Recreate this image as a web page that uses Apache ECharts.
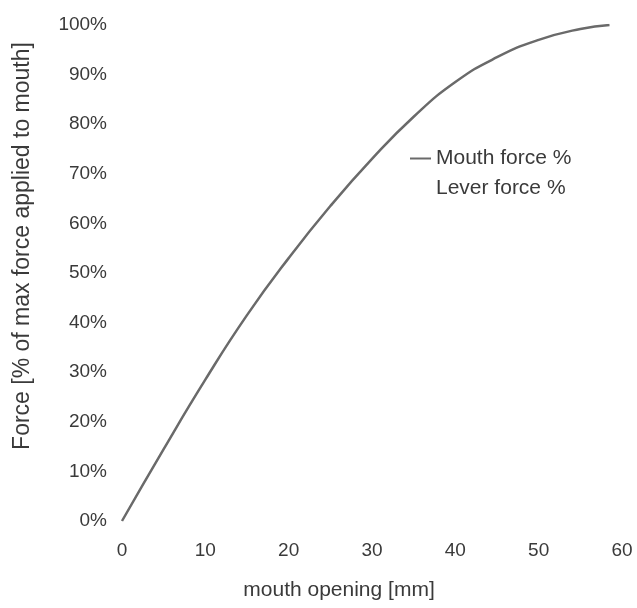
<!DOCTYPE html>
<html>
<head>
<meta charset="utf-8">
<script src="https://cdn.jsdelivr.net/npm/echarts@6/dist/echarts.min.js"></script>
<style>
  html, body { margin: 0; padding: 0; background: #fff; }
  #chart { width: 637px; height: 608px; }
</style>
</head>
<body>
<div id="chart"></div>
<script>
// mouth opening [mm] and force in % of max
var opening = [0, 5, 10, 15, 20, 25, 30, 35, 40, 45, 50, 55, 58.5];
var mouthForce = [0, 14.5, 28.5, 41.5, 53, 63.5, 73, 81.5, 88.5, 93.5, 97, 99.2, 100];
var seriesNames = ['Mouth force %', 'Lever force %'];

var textColor = '#3a3a3a';
var font = 'Liberation Sans';

var chart = echarts.init(document.getElementById('chart'));

chart.setOption({
    backgroundColor: '#fff',
    animation: false,
    grid: {
        left: 122,
        right: 15,
        top: 25,
        bottom: 87
    },
    legend: {
        orient: 'vertical',
        left: 405,
        top: 143,
        itemWidth: 21,
        itemHeight: 10,
        itemGap: 9,
        textStyle: { color: textColor, fontSize: 21, fontFamily: font },
        data: [
            { name: seriesNames[0], icon: 'path://M0,4 L21,4 L21,6 L0,6 Z' },
            { name: seriesNames[1], icon: 'none' }
        ]
    },
    xAxis: {
        type: 'value',
        min: 0,
        max: 60,
        interval: 10,
        name: 'mouth opening [mm]',
        nameLocation: 'middle',
        nameGap: 59,
        nameTextStyle: { color: textColor, fontSize: 21, fontFamily: font, padding: [0, 66, 0, 0] },
        axisLine: { show: false },
        axisTick: { show: false },
        splitLine: { show: false },
        axisLabel: { color: textColor, fontSize: 19, fontFamily: font, margin: 20 }
    },
    yAxis: {
        type: 'value',
        min: 0,
        max: 100,
        interval: 10,
        name: 'Force [% of max force applied to mouth]',
        nameLocation: 'middle',
        nameGap: 88,
        nameTextStyle: { color: textColor, fontSize: 23, fontFamily: font, padding: [0, 0, 0, 54] },
        axisLine: { show: false },
        axisTick: { show: false },
        splitLine: { show: false },
        axisLabel: {
            color: textColor, fontSize: 19, fontFamily: font, margin: 15,
            formatter: '{value}%'
        }
    },
    series: [
        {
            name: seriesNames[0],
            type: 'line',
            smooth: true,
            showSymbol: false,
            lineStyle: { color: '#6a6a6a', width: 2.5 },
            itemStyle: { color: '#6a6a6a' },
            data: opening.map(function (x, i) { return [x, mouthForce[i]]; })
        },
        {
            name: seriesNames[1],
            type: 'line',
            showSymbol: false,
            lineStyle: { color: 'transparent' },
            itemStyle: { color: 'transparent' },
            data: []
        }
    ]
});
</script>
</body>
</html>
